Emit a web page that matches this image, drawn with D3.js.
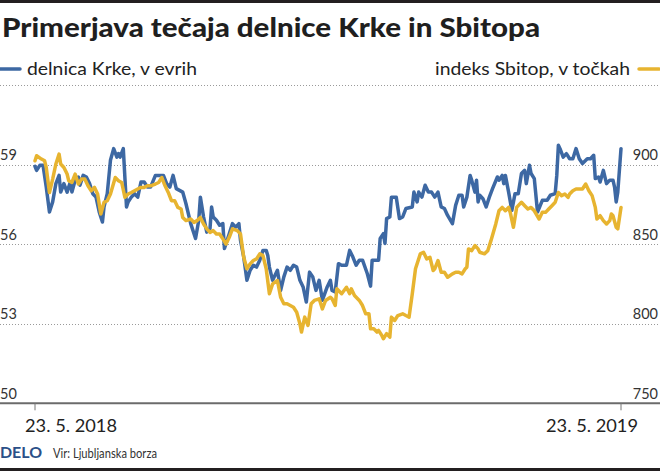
<!DOCTYPE html>
<html>
<head>
<meta charset="utf-8">
<script src="https://cdn.jsdelivr.net/npm/d3@7"></script>
<style>
  html, body { margin: 0; padding: 0; background: #fff; }
  svg { display: block; }
  text { font-family: Lato, "Noto Sans", sans-serif; }
</style>
</head>
<body>
<svg id="chart" width="660" height="472"></svg>
<script>
// ---- data ----
const title = "Primerjava tečaja delnice Krke in Sbitopa";
const legendKrke = "delnica Krke, v evrih";
const legendSbitop = "indeks Sbitop, v točkah";
const sourceBrand = "DELO";
const sourceText = "Vir: Ljubljanska borza";

// days since 23. 5. 2018
const dateTickDays = [0, 365];
const dateTickLabels = ["23. 5. 2018", "23. 5. 2019"];

const leftTicks = [50, 53, 56, 59];
const rightTicks = [750, 800, 850, 900];
const gridLeft = [53, 56, 59, 62];

const krkeDays = [0,1,3,5,7,9,11,13,15,16,18,20,22,23,25,27,28,30,32,34,36,38,40,42,43,45,47,49,51,52,53,55,57,58,60,62,64,66,68,70,72,75,80,82,84,86,88,92,94,97,100,102,103,105,107,109,110,111,113,115,117,118,119,121,123,125,127,128,130,132,134,136,138,140,142,144,145,146,148,151,153,155,157,159,161,163,165,167,169,171,173,175,177,179,182,184,185,187,189,191,194,196,198,200,202,204,207,209,210,214,215,217,218,219,221,222,225,227,229,231,235,236,238,239,241,243,245,247,249,251,253,255,257,260,262,264,266,267,269,271,272,274,275,276,277,279,281,283,285,288,289,291,292,293,295,297,299,301,303,305,306,308,309,311,313,316,319,321,324,325,326,327,329,331,333,335,337,339,341,344,346,348,349,351,352,354,356,358,360,361,362,363,365];
const krkeValues = [58.94,58.79,58.98,58.98,58.16,57.22,57.60,58.29,58.60,57.97,58.29,57.97,58.35,57.97,58.42,58.54,58.23,58.60,58.54,58.29,57.91,57.78,57.22,56.84,57.41,57.91,59.17,59.61,59.29,59.42,59.29,59.61,57.41,57.60,57.78,57.91,57.78,58.35,58.35,58.16,58.16,58.60,58.60,58.29,58.16,58.60,58.10,57.97,57.54,56.78,56.22,56.91,57.78,57.03,56.46,56.59,57.41,57.03,56.91,56.72,56.78,55.84,56.03,56.40,56.78,56.65,56.78,56.15,55.52,54.64,55.02,55.21,55.14,55.40,55.77,55.77,55.58,55.14,54.64,55.02,54.26,54.77,55.14,55.02,55.21,55.14,54.64,54.39,53.82,54.95,54.77,54.26,54.64,53.89,54.39,54.64,54.26,54.20,55.27,55.21,55.21,55.77,55.52,55.21,55.40,55.40,54.89,54.42,55.40,55.40,56.22,56.40,56.03,56.97,57.03,57.78,57.78,56.97,57.03,57.35,57.41,57.97,57.60,57.97,57.78,58.23,57.97,57.97,57.78,57.97,57.41,57.35,57.09,56.78,57.47,57.85,57.85,57.41,57.78,58.60,58.42,57.97,58.42,57.60,57.85,57.72,57.41,57.78,58.10,58.54,58.42,58.60,58.29,58.60,57.97,57.28,57.91,57.91,58.67,58.79,58.29,58.98,58.67,58.48,57.22,57.66,57.66,57.85,57.91,58.60,59.74,59.61,59.29,59.42,59.23,59.23,59.61,59.23,59.05,59.23,59.23,59.36,58.48,58.54,58.35,58.79,58.29,58.42,58.42,58.16,57.60,57.97,59.61];

const sbitopDays = [0,1,4,6,7,9,11,13,15,16,18,20,21,23,25,27,29,31,33,35,37,39,41,43,45,47,50,52,54,56,58,60,62,64,66,68,70,72,75,77,79,81,83,85,87,89,91,92,94,97,99,101,103,105,107,109,111,113,115,117,119,121,123,126,128,130,132,134,136,138,140,142,144,146,148,151,153,155,157,159,161,163,165,166,168,170,172,174,177,179,181,184,185,187,188,191,194,196,197,199,202,204,206,208,209,211,213,214,216,217,219,221,222,224,226,229,231,233,235,237,240,242,244,246,248,249,251,253,255,257,260,262,264,266,268,269,270,272,274,276,277,280,282,284,287,289,291,293,295,296,298,300,302,303,305,307,309,311,314,316,318,320,322,324,326,328,330,332,333,335,337,341,343,345,347,349,350,352,354,356,358,359,360,362,363,365];
const sbitopValues = [902.5,905.7,903.6,902.5,898.3,882.6,891.0,900.5,906.7,900.5,898.3,894.2,890.0,888.9,894.2,887.9,891.0,891.0,886.8,883.7,885.8,881.6,869.1,876.4,877.4,881.6,892.0,890.0,888.9,879.5,881.6,882.6,883.7,884.8,885.8,885.8,886.8,886.8,887.9,888.9,892.0,886.8,882.6,877.4,877.4,873.2,872.2,866.9,864.9,865.9,863.8,864.9,866.9,862.8,859.7,857.5,858.6,856.5,856.5,853.4,850.2,854.4,859.7,858.6,856.5,841.8,834.6,837.7,839.8,840.8,844.0,842.9,834.6,818.9,825.1,827.2,816.7,812.6,812.6,811.5,810.4,807.3,800.0,794.8,804.2,799.0,812.6,814.7,815.7,809.4,814.7,816.7,815.7,811.5,822.0,818.9,823.0,818.9,822.0,817.8,814.7,811.5,806.3,806.3,796.9,796.9,794.8,795.8,792.7,790.6,793.8,791.6,804.2,802.1,805.2,806.3,805.2,804.2,818.9,834.6,844.0,845.0,840.8,841.8,833.5,834.6,839.8,832.4,832.4,829.3,831.4,832.4,832.4,831.4,834.6,835.6,847.1,846.0,849.2,847.1,845.0,844.0,846.0,852.3,862.8,871.1,873.2,871.1,873.2,870.1,860.7,873.2,875.4,876.4,874.3,872.2,873.2,871.1,865.9,870.1,870.1,872.2,874.3,876.4,882.6,880.6,881.6,879.5,881.6,883.7,884.8,884.8,887.9,883.7,880.6,873.2,865.9,868.0,864.9,862.8,864.9,869.1,868.0,860.7,859.7,873.2];

const colorKrke = "#3d68a3";
const colorSbitop = "#e7b430";

// ---- drawing ----
const svg = d3.select("#chart");
const W = 660, H = 472;

const x = d3.scaleLinear().domain([0, 365]).range([35, 621]);
const yL = d3.scaleLinear().domain([50, 62]).range([403.3, 85.3]);
const yR = d3.scaleLinear().domain([750, 950]).range([403.3, 85.3]);

// frame bars
svg.append("rect").attr("x", 0).attr("y", 0).attr("width", W).attr("height", 3).attr("fill", "#231f20");
svg.append("rect").attr("x", 0).attr("y", 468).attr("width", W).attr("height", 3).attr("fill", "#231f20");

// title
svg.append("text").attr("x", 2).attr("y", 37)
  .attr("font-size", 27).attr("font-weight", 900).attr("fill", "#1f1f1f")
  .attr("textLength", 538).attr("lengthAdjust", "spacingAndGlyphs")
  .text(title);

// legend
svg.append("line").attr("x1", 0).attr("x2", 20).attr("y1", 69).attr("y2", 69)
  .attr("stroke", colorKrke).attr("stroke-width", 3.5).attr("stroke-linecap", "round");
svg.append("text").attr("x", 27).attr("y", 75).attr("font-size", 18).attr("fill", "#222")
  .attr("textLength", 170).attr("lengthAdjust", "spacingAndGlyphs").text(legendKrke);
svg.append("line").attr("x1", 639).attr("x2", 659).attr("y1", 69).attr("y2", 69)
  .attr("stroke", colorSbitop).attr("stroke-width", 3.5).attr("stroke-linecap", "round");
svg.append("text").attr("x", 435).attr("y", 75).attr("font-size", 18).attr("fill", "#222")
  .attr("textLength", 195).attr("lengthAdjust", "spacingAndGlyphs").text(legendSbitop);

// grid lines
svg.append("g").selectAll("line").data(gridLeft).join("line")
  .attr("x1", 0).attr("x2", W)
  .attr("y1", d => Math.round(yL(d)) + 0.5).attr("y2", d => Math.round(yL(d)) + 0.5)
  .attr("stroke", "#9a9a9a").attr("stroke-width", 1).attr("stroke-dasharray", "1,2");

// baseline axis
svg.append("line").attr("x1", 0).attr("x2", W)
  .attr("y1", yL(50)).attr("y2", yL(50))
  .attr("stroke", "#6b6b6b").attr("stroke-width", 2);

// y labels
svg.append("g").selectAll("text").data(leftTicks).join("text")
  .attr("x", 0).attr("y", d => yL(d) - 4.5)
  .attr("font-size", 14.5).attr("fill", "#333")
  .text(d => d);
svg.append("g").selectAll("text").data(rightTicks).join("text")
  .attr("x", 658).attr("y", d => yR(d) - 4.5).attr("text-anchor", "end")
  .attr("font-size", 14.5).attr("fill", "#333")
  .text(d => d);

// x ticks and labels
svg.append("g").selectAll("line").data(dateTickDays).join("line")
  .attr("x1", d => x(d)).attr("x2", d => x(d))
  .attr("y1", yL(50)).attr("y2", yL(50) + 7)
  .attr("stroke", "#777").attr("stroke-width", 1);
svg.append("g").selectAll("text").data(dateTickDays).join("text")
  .attr("x", (d, i) => i === 0 ? x(d) - 10 : x(d) + 17)
  .attr("text-anchor", (d, i) => i === 0 ? "start" : "end")
  .attr("y", 432)
  .attr("font-size", 16.5).attr("fill", "#222")
  .attr("textLength", 92).attr("lengthAdjust", "spacingAndGlyphs")
  .text((d, i) => dateTickLabels[i]);

// lines
const krke = krkeDays.map((d, i) => [d, krkeValues[i]]);
const sbitop = sbitopDays.map((d, i) => [d, sbitopValues[i]]);

svg.append("path").datum(krke)
  .attr("fill", "none").attr("stroke", colorKrke).attr("stroke-width", 3.5)
  .attr("stroke-linejoin", "round").attr("stroke-linecap", "round")
  .attr("d", d3.line().x(d => x(d[0])).y(d => yL(d[1])));

svg.append("path").datum(sbitop)
  .attr("fill", "none").attr("stroke", colorSbitop).attr("stroke-width", 3.5)
  .attr("stroke-linejoin", "round").attr("stroke-linecap", "round")
  .attr("d", d3.line().x(d => x(d[0])).y(d => yR(d[1])));

// footer
svg.append("text").attr("x", 0).attr("y", 458)
  .attr("font-family", "'Liberation Serif', 'DejaVu Serif', serif")
  .attr("font-size", 15).attr("font-weight", 700).attr("fill", "#2b5088")
  .attr("textLength", 42).attr("lengthAdjust", "spacingAndGlyphs")
  .text(sourceBrand);
svg.append("text").attr("x", 53).attr("y", 458)
  .attr("font-size", 14).attr("fill", "#333")
  .attr("textLength", 104).attr("lengthAdjust", "spacingAndGlyphs")
  .text(sourceText);
</script>
</body>
</html>
